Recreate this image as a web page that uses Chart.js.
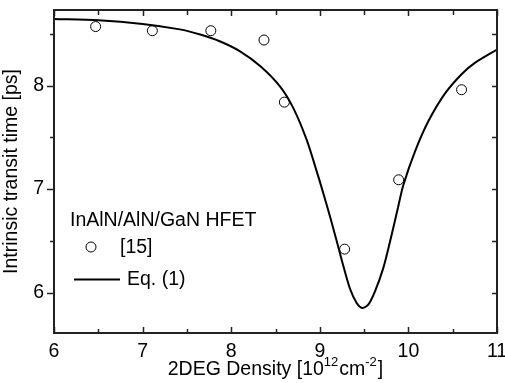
<!DOCTYPE html>
<html>
<head>
<meta charset="utf-8">
<script src="https://cdn.jsdelivr.net/npm/chart.js@4.4.1/dist/chart.umd.min.js"></script>
<style>
  html, body { margin: 0; padding: 0; background: #fff; }
  #wrap { width: 505px; height: 383px; }
</style>
</head>
<body>
<div id="wrap"><canvas id="chart" width="505" height="383"></canvas></div>
<script>
// measured points, ref. [15]
var densityMeas = [6.47, 7.11, 7.77, 8.37, 8.60, 9.28, 9.89, 10.60];
var transitMeas = [8.57, 8.53, 8.53, 8.44, 7.84, 6.42, 7.09, 7.96];

// Eq. (1) curve
var densityCurve = [6.0, 6.5, 7.0, 7.42, 7.65, 7.87, 8.10, 8.33, 8.55, 8.70, 8.85, 8.98, 9.06, 9.12, 9.19, 9.265, 9.34, 9.416, 9.48, 9.547, 9.623, 9.717, 9.811, 9.886, 9.943, 10.075, 10.225, 10.41, 10.60, 10.75, 11.0];
var transitCurve = [8.644, 8.631, 8.595, 8.543, 8.493, 8.428, 8.331, 8.187, 7.993, 7.785, 7.48, 7.13, 6.90, 6.72, 6.50, 6.26, 6.04, 5.90, 5.852, 5.884, 6.013, 6.239, 6.56, 6.835, 7.04, 7.365, 7.655, 7.92, 8.11, 8.219, 8.348];

var xTicks = [6, 7, 8, 9, 10, 11];
var xMinorTicks = [6.5, 7.5, 8.5, 9.5, 10.5];
var yTicks = [6, 7, 8];
var yMinorTicks = [6.5, 7.5, 8.5];

var legendTitle = 'InAlN/AlN/GaN HFET';
var FONT = 'Liberation Sans, Arial, sans-serif';

function pairs(xs, ys) {
    return xs.map(function (x, i) { return { x: x, y: ys[i] }; });
}
// keep tick labels from shrinking the plot box
function noPad(s) {
    s.paddingLeft = 0; s.paddingRight = 0; s.paddingTop = 0; s.paddingBottom = 0;
}

// box + ticks: left outward, other sides inward
var frame = {
    id: 'frame',
    afterDatasetsDraw: function (chart) {
        var ctx = chart.ctx, a = chart.chartArea;
        var sx = chart.scales.x, sy = chart.scales.y;
        ctx.save();
        ctx.strokeStyle = '#222';
        ctx.lineWidth = 1.5;
        function tick(x1, y1, x2, y2) {
            ctx.beginPath(); ctx.moveTo(x1, y1); ctx.lineTo(x2, y2); ctx.stroke();
        }
        xTicks.forEach(function (v) {
            var px = Math.round(sx.getPixelForValue(v)) + 0.5;
            tick(px, a.bottom, px, a.bottom - 6);
            tick(px, a.top, px, a.top + 6);
        });
        xMinorTicks.forEach(function (v) {
            var px = Math.round(sx.getPixelForValue(v)) + 0.5;
            tick(px, a.bottom, px, a.bottom - 4);
            tick(px, a.top, px, a.top + 5);
        });
        yTicks.forEach(function (v) {
            var py = Math.round(sy.getPixelForValue(v)) + 0.5;
            tick(a.left, py, a.left - 7, py);
            tick(a.right, py, a.right - 5, py);
        });
        yMinorTicks.forEach(function (v) {
            var py = Math.round(sy.getPixelForValue(v)) + 0.5;
            tick(a.left, py, a.left - 4, py);
            tick(a.right, py, a.right - 5, py);
        });
        ctx.lineWidth = 2;
        ctx.strokeRect(a.left, a.top, a.right - a.left, a.bottom - a.top);
        ctx.restore();
    }
};

// legend inside the plot
var insideLegend = {
    id: 'insideLegend',
    afterDraw: function (chart) {
        var ctx = chart.ctx;
        var ds = chart.data.datasets;
        ctx.save();
        ctx.fillStyle = '#000';
        ctx.font = '19.5px ' + FONT;
        ctx.textBaseline = 'middle';
        ctx.textAlign = 'left';
        ctx.fillText(legendTitle, 70, 221);

        ctx.strokeStyle = '#000';
        ctx.lineWidth = 1;
        ctx.beginPath();
        ctx.arc(91, 247, 5, 0, Math.PI * 2);
        ctx.stroke();
        ctx.fillText(ds[0].label, 120, 248);

        ctx.lineWidth = 2;
        ctx.beginPath();
        ctx.moveTo(74, 279.5);
        ctx.lineTo(120, 279.5);
        ctx.stroke();
        ctx.fillText(ds[1].label, 127, 280);
        ctx.restore();
    }
};

// x title with superscripts
var xTitle = {
    id: 'xTitle',
    afterDraw: function (chart) {
        var ctx = chart.ctx, a = chart.chartArea;
        var parts = [
            { t: '2DEG Density [10', sup: false },
            { t: '12', sup: true },
            { t: 'cm', sup: false },
            { t: '-2', sup: true },
            { t: ']', sup: false }
        ];
        var big = '19.5px ' + FONT, small = '13px ' + FONT;
        ctx.save();
        ctx.fillStyle = '#000';
        ctx.textBaseline = 'alphabetic';
        var total = 0;
        parts.forEach(function (p) {
            ctx.font = p.sup ? small : big;
            p.w = ctx.measureText(p.t).width + (p.sup ? 1 : 0);
            total += p.w;
        });
        var x = (a.left + a.right) / 2 - total / 2;
        var base = 375;
        parts.forEach(function (p) {
            ctx.font = p.sup ? small : big;
            ctx.fillText(p.t, x, p.sup ? base - 9 : base);
            x += p.w;
        });
        ctx.restore();
    }
};

new Chart(document.getElementById('chart'), {
    type: 'scatter',
    data: {
        datasets: [{
            label: '[15]',
            data: pairs(densityMeas, transitMeas),
            showLine: false,
            pointStyle: 'circle',
            pointRadius: 5,
            pointBorderWidth: 1,
            pointBorderColor: '#000',
            pointBackgroundColor: 'rgba(0,0,0,0)'
        }, {
            label: 'Eq. (1)',
            data: pairs(densityCurve, transitCurve),
            showLine: true,
            pointRadius: 0,
            borderColor: '#000',
            borderWidth: 2,
            tension: 0.3,
            fill: false
        }]
    },
    options: {
        responsive: false,
        animation: false,
        devicePixelRatio: 1,
        layout: { padding: { left: 0, right: 8, top: 10, bottom: 0 } },
        plugins: {
            legend: { display: false },
            tooltip: { enabled: false }
        },
        scales: {
            x: {
                type: 'linear',
                min: 6,
                max: 11,
                afterBuildTicks: function (s) { s.ticks = xTicks.map(function (v) { return { value: v }; }); },
                afterFit: function (s) { s.height = 50; noPad(s); },
                grid: { display: false, drawTicks: false },
                border: { display: false },
                ticks: { color: '#000', font: { family: FONT, size: 19.5 }, padding: 7, maxRotation: 0 }
            },
            y: {
                type: 'linear',
                min: 5.61,
                max: 8.73,
                afterBuildTicks: function (s) { s.ticks = yTicks.map(function (v) { return { value: v }; }); },
                afterFit: function (s) { s.width = 54; noPad(s); },
                grid: { display: false, drawTicks: false },
                border: { display: false },
                ticks: { color: '#000', font: { family: FONT, size: 19.5 }, padding: 10 },
                title: {
                    display: true,
                    text: 'Intrinsic transit time [ps]',
                    color: '#000',
                    font: { family: FONT, size: 19.5 },
                    padding: { top: 0, bottom: 0 }
                }
            }
        }
    },
    plugins: [frame, insideLegend, xTitle]
});
</script>
</body>
</html>
